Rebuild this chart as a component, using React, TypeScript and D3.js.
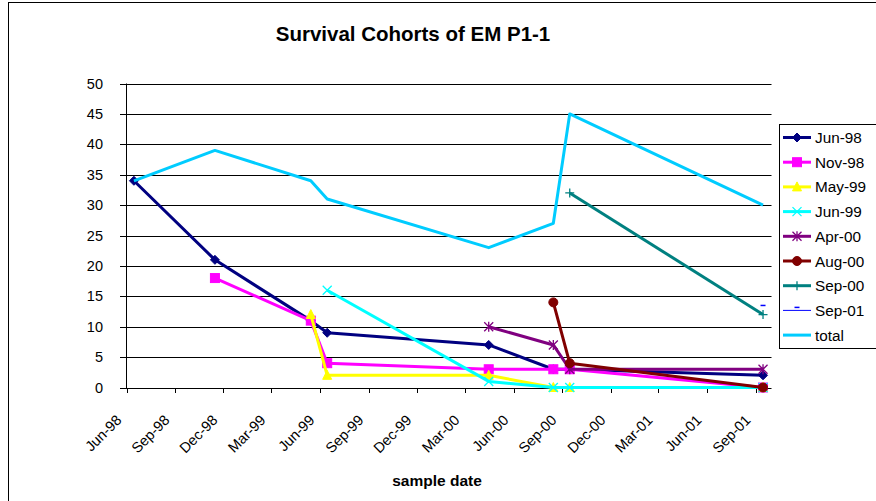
import React from "react";
import * as d3 from "d3";

const sampleDates = ["1998-06-15", "1998-11-15", "1999-05-15", "1999-06-15", "2000-04-15", "2000-08-15", "2000-09-15", "2001-09-15"];

const seriesNames = ["Jun-98", "Nov-98", "May-99", "Jun-99", "Apr-00", "Aug-00", "Sep-00", "Sep-01", "total"];

const jun98 = [34, 21, 11, 9, 7, 3, 3, 2];
const nov98 = [null, 18, 11, 4, 3, 3, 3, 0];
const may99 = [null, null, 12, 2, 2, 0, 0, 0];
const jun99 = [null, null, null, 16, 1, 0, 0, 0];
const apr00 = [null, null, null, null, 10, 7, 3, 3];
const aug00 = [null, null, null, null, null, 14, 4, 0];
const sep00 = [null, null, null, null, null, null, 32, 12];
const sep01 = [null, null, null, null, null, null, null, 13];
const total = [34, 39, 34, 31, 23, 27, 45, 30];

const yTicks = [0, 5, 10, 15, 20, 25, 30, 35, 40, 45, 50];

const seriesValues = [jun98, nov98, may99, jun99, apr00, aug00, sep00, sep01, total];
const seriesColors = ["#000080", "#FF00FF", "#FFFF00", "#00FFFF", "#800080", "#800000", "#008080", "#0000FF", "#00CCFF"];
const seriesMarkers = ["diamond", "square", "triangle", "x", "asterisk", "circle", "plus", "dash", "none"];
const seriesWidths = [3, 3, 3, 3, 3, 3, 3, 1, 3];

const FONT = "Arial, 'Liberation Sans', sans-serif";

function Marker({ type, cx, cy, color }: { type: string; cx: number; cy: number; color: string }) {
  const s = 4.5;
  switch (type) {
    case "diamond":
      return <path d={`M${cx},${cy - s}L${cx + s},${cy}L${cx},${cy + s}L${cx - s},${cy}Z`} fill={color} stroke={color} strokeWidth={1} />;
    case "square":
      return <rect x={cx - s} y={cy - s} width={2 * s} height={2 * s} fill={color} stroke={color} strokeWidth={1} />;
    case "triangle":
      return <path d={`M${cx},${cy - s - 0.5}L${cx + s},${cy + s - 0.5}L${cx - s},${cy + s - 0.5}Z`} fill={color} stroke={color} strokeWidth={1} />;
    case "circle":
      return <circle cx={cx} cy={cy} r={s} fill={color} stroke={color} strokeWidth={1} />;
    case "x":
      return <path d={`M${cx - s},${cy - s}L${cx + s},${cy + s}M${cx - s},${cy + s}L${cx + s},${cy - s}`} stroke={color} strokeWidth={1.3} fill="none" />;
    case "asterisk":
      return <path d={`M${cx - s},${cy - s}L${cx + s},${cy + s}M${cx - s},${cy + s}L${cx + s},${cy - s}M${cx},${cy - s - 0.5}L${cx},${cy + s + 0.5}`} stroke={color} strokeWidth={1.3} fill="none" />;
    case "plus":
      return <path d={`M${cx - s},${cy}L${cx + s},${cy}M${cx},${cy - s}L${cx},${cy + s}`} stroke={color} strokeWidth={1.3} fill="none" />;
    case "dash":
      return <path d={`M${cx - 2.5},${cy - 3}L${cx + 2.5},${cy - 3}`} stroke={color} strokeWidth={1.5} fill="none" />;
    default:
      return null;
  }
}

export default function App() {
  const W = 876, H = 501;
  const x = d3.scaleTime().domain([new Date(1998, 5, 1), new Date(2001, 9, 1)]).range([126.5, 771.5]);
  const y = d3.scaleLinear().domain([0, 50]).range([387.5, 83.5]);
  const dates = sampleDates.map((d) => {
    const [yy, mm, dd] = d.split("-").map(Number);
    return new Date(yy, mm - 1, dd);
  });
  const xTicks = d3.timeMonth.range(new Date(1998, 5, 1), new Date(2001, 9, 2), 3);
  const fmt = d3.timeFormat("%b-%y");

  const line = d3
    .line<{ d: Date; v: number | null }>()
    .defined((p) => p.v !== null)
    .x((p) => x(p.d))
    .y((p) => y(p.v as number));

  const legendX = 779.5, legendY = 124.5, legendStep = 24.7, legendFirst = 137.5;

  return (
    <svg width={W} height={H} style={{ position: "absolute", left: 0, top: 0, background: "#fff" }} fontFamily={FONT}>
      <rect x={8.5} y={2.5} width={900} height={600} fill="#fff" stroke="#000" strokeWidth={1} />
      <text x={413} y={41} textAnchor="middle" fontSize={20.5} fontWeight="bold" fill="#000">
        Survival Cohorts of EM P1-1
      </text>
      {yTicks.map((t) => (
        <g key={t}>
          <line x1={120} x2={771.5} y1={Math.round(y(t)) + 0.5} y2={Math.round(y(t)) + 0.5} stroke="#000" strokeWidth={1} />
          <text x={103} y={y(t) + 5} textAnchor="end" fontSize={14.5} fill="#000">
            {t}
          </text>
        </g>
      ))}
      <line x1={126.5} x2={126.5} y1={83.5} y2={388} stroke="#000" strokeWidth={1} />
      {xTicks.map((t, i) => {
        const tx = Math.round(x(t)) + 0.5;
        return (
          <g key={i}>
            <line x1={tx} x2={tx} y1={388} y2={393} stroke="#000" strokeWidth={1} />
            <text transform={`translate(${tx - 5},${421}) rotate(-45)`} textAnchor="end" fontSize={14.5} fill="#000">
              {fmt(t)}
            </text>
          </g>
        );
      })}
      {seriesValues.map((vals, si) => {
        const pts = vals.map((v, i) => ({ d: dates[i], v }));
        return (
          <g key={si}>
            <path d={line(pts) || ""} fill="none" stroke={seriesColors[si]} strokeWidth={seriesWidths[si]} strokeLinejoin="round" />
            {pts
              .filter((p) => p.v !== null)
              .map((p, i) => (
                <Marker key={i} type={seriesMarkers[si]} cx={x(p.d)} cy={y(p.v as number)} color={seriesColors[si]} />
              ))}
          </g>
        );
      })}
      <text x={437} y={486} textAnchor="middle" fontSize={15.5} fontWeight="bold" fill="#000">
        sample date
      </text>
      <rect x={legendX} y={legendY} width={200} height={224} fill="#fff" stroke="#000" strokeWidth={1} />
      {seriesNames.map((n, i) => {
        const cy = legendFirst + i * legendStep;
        return (
          <g key={n}>
            <line x1={783} x2={811} y1={cy} y2={cy} stroke={seriesColors[i]} strokeWidth={seriesWidths[i]} />
            <Marker type={seriesMarkers[i]} cx={797} cy={cy} color={seriesColors[i]} />
            <text x={815} y={cy + 5.5} fontSize={15.3} fill="#000">
              {n}
            </text>
          </g>
        );
      })}
    </svg>
  );
}
